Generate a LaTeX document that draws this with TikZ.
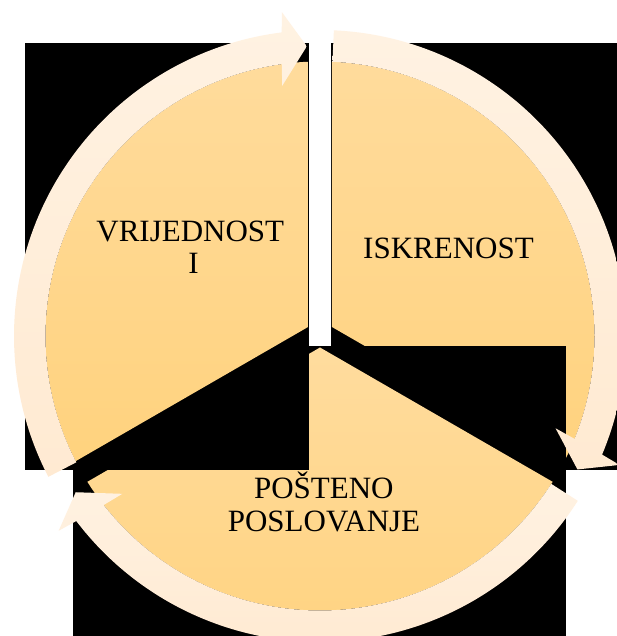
\documentclass[tikz,border=0pt]{standalone}
\usepackage{fontspec}
\setmainfont{Liberation Serif}
\definecolor{secTop}{HTML}{FFDC9E}
\definecolor{secBot}{HTML}{FFD27D}
\definecolor{ringTop}{HTML}{FFF2E2}
\definecolor{ringBot}{HTML}{FFEAD2}
\newcommand\myringarrow[1]{%
  \pgfmathsetmacro\aTail{207.4+(#1)}%
  \pgfmathsetmacro\aOut{97.2+(#1)}%
  \pgfmathsetmacro\aBo{96.7+(#1)}%
  \pgfmathsetmacro\aTip{92.6+(#1)}%
  \pgfmathsetmacro\aBi{98.6+(#1)}%
  \pgfmathsetmacro\aIn{98.0+(#1)}%
  \path[ringshape] (\aTail:306) arc[start angle=\aTail, end angle=\aOut, radius=306]
    -- (\aBo:326) -- (\aTip:290) -- (\aBi:253) -- (\aIn:274.5)
    arc[start angle=\aIn, end angle=\aTail, radius=274.5] -- cycle;%
}
\begin{document}
\begin{tikzpicture}[x=1pt,y=1pt,
  piefill/.style={top color=secTop, bottom color=secBot},
  ringshape/.style={top color=ringTop, bottom color=ringBot},
  lbl/.style={font=\fontsize{31}{33}\selectfont, anchor=base, inner sep=0pt, text=black}]
\useasboundingbox (0,0) rectangle (617,636);
\fill[white] (0,0) rectangle (617,636);
\coordinate (rc) at (320,300);
% right segment
\fill[black] (331,166) rectangle (617,593);
\begin{scope}
  \clip (rc) circle[radius=274.5];
  \begin{scope}[shift={(320,302.2)}]
    \path[piefill] (30:13.7) -- ++(-30:295) arc[start angle=-30, end angle=90, radius=295] -- cycle;
  \end{scope}
\end{scope}
% bottom segment
\fill[black] (73,0) rectangle (566,290);
\begin{scope}
  \clip (rc) circle[radius=274.5];
  \begin{scope}[shift={(320,302.2)}]
    \path[piefill] (270:13.7) -- ++(210:295) arc[start angle=210, end angle=330, radius=295] -- cycle;
  \end{scope}
\end{scope}
% left segment
\fill[black] (25,166) rectangle (309,593);
\begin{scope}
  \clip (rc) circle[radius=274.5];
  \begin{scope}[shift={(320,302.2)}]
    \path[piefill] (150:13.7) -- ++(90:295) arc[start angle=90, end angle=210, radius=295] -- cycle;
  \end{scope}
\end{scope}
% ring arrows
\begin{scope}[shift={(320,300)}]
  \myringarrow{0}
  \myringarrow{-120}
  \myringarrow{120}
\end{scope}
% labels
\node[lbl] (v1) at (190.3,394.3) {VRIJEDNOST};
\node[lbl] (v2) at (193.5,362) {I};
\node[lbl] (isk) at (448.5,377.2) {ISKRENOST};
\node[lbl] (p1) at (323.8,137.8) {POŠTENO};
\node[lbl] (p2) at (324,104.6) {POSLOVANJE};
\end{tikzpicture}
\end{document}
